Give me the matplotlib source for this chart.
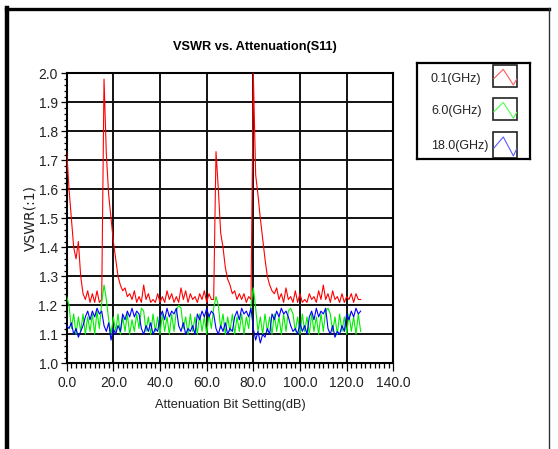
import numpy as np
import matplotlib
matplotlib.use("Agg")
import matplotlib.pyplot as plt
from matplotlib.lines import Line2D
from matplotlib.patches import Rectangle
from matplotlib.ticker import MultipleLocator, FormatStrFormatter

# VSWR readings, one per attenuation bit setting (dB), starting at 0
vswr_01ghz = [
    1.73, 1.60, 1.50, 1.40, 1.36, 1.42, 1.30, 1.24,
    1.22, 1.25, 1.21, 1.24, 1.21, 1.25, 1.21, 1.22,
    1.98, 1.72, 1.58, 1.50, 1.42, 1.36, 1.30, 1.27,
    1.25, 1.26, 1.23, 1.24, 1.22, 1.25, 1.21, 1.23,
    1.21, 1.27, 1.22, 1.24, 1.21, 1.22, 1.21, 1.24,
    1.21, 1.23, 1.21, 1.25, 1.22, 1.24, 1.21, 1.23,
    1.21, 1.26, 1.22, 1.25, 1.21, 1.24, 1.22, 1.23,
    1.21, 1.24, 1.22, 1.25, 1.21, 1.24, 1.22, 1.22,
    1.73, 1.60, 1.45, 1.40, 1.33, 1.29, 1.27, 1.24,
    1.25, 1.22, 1.24, 1.22, 1.24, 1.21, 1.23, 1.22,
    2.00, 1.65, 1.58, 1.50, 1.43, 1.36, 1.30, 1.27,
    1.25, 1.24, 1.26, 1.22, 1.24, 1.21, 1.26, 1.22,
    1.23, 1.21, 1.25, 1.21, 1.24, 1.21, 1.22, 1.21,
    1.24, 1.22, 1.23, 1.21, 1.25, 1.22, 1.27, 1.22,
    1.24, 1.21, 1.25, 1.22, 1.23, 1.21, 1.24, 1.21,
    1.23, 1.22, 1.24, 1.21, 1.24, 1.22, 1.22,
]

vswr_6ghz = [
    1.23, 1.20, 1.12, 1.17, 1.10, 1.16, 1.11, 1.17,
    1.10, 1.16, 1.11, 1.17, 1.10, 1.18, 1.12, 1.21,
    1.27, 1.22, 1.15, 1.10, 1.16, 1.11, 1.17, 1.10,
    1.16, 1.11, 1.17, 1.10, 1.15, 1.11, 1.17, 1.12,
    1.19, 1.18, 1.11, 1.16, 1.10, 1.17, 1.11, 1.16,
    1.10, 1.17, 1.11, 1.16, 1.10, 1.17, 1.11, 1.18,
    1.20, 1.19, 1.12, 1.16, 1.10, 1.17, 1.11, 1.16,
    1.10, 1.17, 1.11, 1.16, 1.10, 1.17, 1.12, 1.19,
    1.23, 1.20, 1.12, 1.17, 1.10, 1.16, 1.11, 1.17,
    1.10, 1.16, 1.11, 1.17, 1.10, 1.16, 1.12, 1.20,
    1.26, 1.19, 1.11, 1.16, 1.10, 1.17, 1.11, 1.16,
    1.10, 1.17, 1.11, 1.16, 1.10, 1.17, 1.11, 1.18,
    1.19, 1.17, 1.11, 1.16, 1.10, 1.17, 1.11, 1.16,
    1.10, 1.17, 1.11, 1.16, 1.10, 1.17, 1.11, 1.18,
    1.19, 1.17, 1.11, 1.16, 1.10, 1.17, 1.11, 1.16,
    1.10, 1.17, 1.11, 1.16, 1.10, 1.17, 1.11,
]

vswr_18ghz = [
    1.13, 1.12, 1.14, 1.10, 1.12, 1.09, 1.11, 1.13,
    1.16, 1.18, 1.15, 1.18, 1.16, 1.19, 1.17, 1.18,
    1.13, 1.11, 1.14, 1.08, 1.12, 1.10, 1.13, 1.11,
    1.17, 1.15, 1.18, 1.16, 1.19, 1.16, 1.18, 1.17,
    1.12, 1.10, 1.13, 1.11, 1.14, 1.10, 1.12, 1.11,
    1.16, 1.18, 1.15, 1.19, 1.16, 1.18, 1.17, 1.19,
    1.13, 1.11, 1.14, 1.10, 1.12, 1.11, 1.13, 1.10,
    1.17, 1.15, 1.18, 1.16, 1.19, 1.16, 1.18, 1.17,
    1.12, 1.10, 1.13, 1.11, 1.14, 1.10, 1.12, 1.11,
    1.16, 1.18, 1.15, 1.19, 1.17, 1.18, 1.16, 1.19,
    1.12, 1.08, 1.11, 1.07, 1.10, 1.09, 1.12, 1.10,
    1.17, 1.15, 1.18, 1.16, 1.19, 1.17, 1.18, 1.16,
    1.13, 1.11, 1.12, 1.10, 1.14, 1.11, 1.13, 1.10,
    1.16, 1.18, 1.15, 1.19, 1.16, 1.18, 1.17, 1.19,
    1.12, 1.10, 1.13, 1.09, 1.11, 1.10, 1.13, 1.11,
    1.17, 1.15, 1.18, 1.16, 1.19, 1.17, 1.18,
]

series_labels = ["0.1(GHz)", "6.0(GHz)", "18.0(GHz)"]
series_colors = ["#ff0000", "#00ee00", "#0000ff"]
swatch_colors = ["#ff5a5a", "#4cff4c", "#5a5aff"]

W, H = 558, 449


def fx(px):
    return px / W


def fy(py):
    return 1 - py / H


fig = plt.figure(figsize=(W / 100, H / 100), dpi=100)
fig.patch.set_facecolor("white")

# outer frame of the screenshot
fig.add_artist(Line2D([fx(7), fx(7)], [fy(8), fy(449)], color="black", lw=3.2,
                      transform=fig.transFigure))
fig.add_artist(Line2D([fx(6), fx(549)], [fy(8.5), fy(8.5)], color="black", lw=2.4,
                      transform=fig.transFigure))
fig.add_artist(Line2D([fx(549), fx(549)], [fy(8), fy(449)], color="#333333", lw=1.0,
                      transform=fig.transFigure))

# main plot
ax = fig.add_axes([fx(66.7), fy(363.3), fx(393.3) - fx(66.7), fy(73.3) - fy(363.3)])
for vals, col in zip([vswr_01ghz, vswr_6ghz, vswr_18ghz], series_colors):
    x = np.arange(len(vals))
    ax.plot(x, vals, color=col, lw=0.8, zorder=3)

ax.set_xlim(0, 140)
ax.set_ylim(1.0, 2.0)
ax.xaxis.set_major_locator(MultipleLocator(20))
ax.xaxis.set_minor_locator(MultipleLocator(2))
ax.yaxis.set_major_locator(MultipleLocator(0.1))
ax.yaxis.set_minor_locator(MultipleLocator(0.02))
ax.xaxis.set_major_formatter(FormatStrFormatter("%.1f"))
ax.yaxis.set_major_formatter(FormatStrFormatter("%.1f"))
ax.grid(True, which="major", color="#111111", lw=1.4, zorder=1)

for s in ax.spines.values():
    s.set_linewidth(1.5)
    s.set_color("black")

ax.tick_params(axis="x", which="major", length=5.5, width=0.9, pad=4, labelsize=10)
ax.tick_params(axis="x", which="minor", length=3.5, width=0.9)
ax.tick_params(axis="y", which="major", length=4.5, width=0.9, pad=2, labelsize=10)
ax.tick_params(axis="y", which="minor", length=2.2, width=0.9)
for lab in ax.get_xticklabels() + ax.get_yticklabels():
    lab.set_fontfamily("Liberation Sans")
    lab.set_color("#222222")

ax.set_xlabel("Attenuation Bit Setting(dB)", fontsize=9.2, family="Liberation Sans",
              color="#222222", labelpad=6)
ax.set_ylabel("VSWR(:1)", fontsize=10, family="DejaVu Sans", color="#222222", labelpad=1)

fig.text(fx(255), fy(47), "VSWR vs. Attenuation(S11)", ha="center", va="center",
         fontsize=9.2, fontweight="bold", family="Liberation Sans")

# legend box drawn in pixel coordinates
lx0, lx1, ly0, ly1 = 417.3, 530.0, 62.7, 159.3
lax = fig.add_axes([fx(lx0), fy(ly1), fx(lx1) - fx(lx0), fy(ly0) - fy(ly1)])
lax.set_xlim(lx0, lx1)
lax.set_ylim(ly1, ly0)
lax.set_xticks([])
lax.set_yticks([])
for s in lax.spines.values():
    s.set_linewidth(1.6)
    s.set_color("black")

swatch_rows = [(65.0, 86.7), (98.0, 120.0), (131.7, 158.0)]
text_y = [79.0, 110.7, 146.0]
zig_fx = [0.05, 0.43, 0.84, 0.97]
zig_fy = [0.62, 0.20, 0.92, 0.66]
sx0, sx1 = 492.7, 517.3
for lab, ty, (r0, r1), sc in zip(series_labels, text_y, swatch_rows, swatch_colors):
    lax.text(431.0, ty, lab, ha="left", va="center", fontsize=9.0,
             family="Liberation Sans", color="#222222")
    lax.add_patch(Rectangle((sx0, r0), sx1 - sx0, r1 - r0, fill=False,
                            edgecolor="#222222", lw=1.2))
    zx = [sx0 + f * (sx1 - sx0) for f in zig_fx]
    zy = [r0 + f * (r1 - r0) for f in zig_fy]
    lax.plot(zx, zy, color=sc, lw=0.8)

fig.savefig("out.png", dpi=100, facecolor="white")
